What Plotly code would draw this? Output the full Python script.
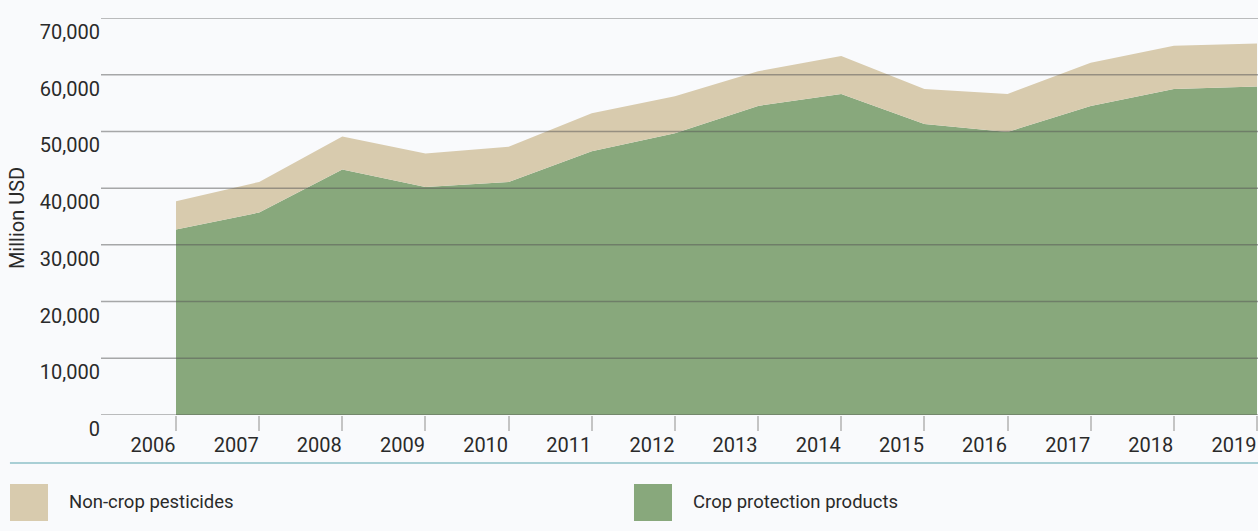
import plotly.graph_objects as go

years = [2006, 2007, 2008, 2009, 2010, 2011, 2012, 2013, 2014, 2015, 2016, 2017, 2018, 2019]
crop_protection = [32700, 35700, 43300, 40200, 41100, 46500, 49700, 54500, 56600, 51300, 49900, 54500, 57500, 57900]
total = [37700, 41100, 49100, 46100, 47300, 53200, 56200, 60600, 63300, 57500, 56600, 62100, 65100, 65500]
non_crop = [t - c for t, c in zip(total, crop_protection)]
y_ticks = [0, 10000, 20000, 30000, 40000, 50000, 60000, 70000]

TAN = "#d8cbae"
GREEN = "#88a87c"
BG = "#f9fafc"
TXT = "#2a2a2a"
FONT = "Roboto"

fig = go.Figure()
fig.add_trace(go.Scatter(x=years, y=crop_protection, name="Crop protection products",
                         stackgroup="one", mode="lines", line=dict(width=0),
                         fillcolor=GREEN, showlegend=False))
fig.add_trace(go.Scatter(x=years, y=non_crop, name="Non-crop pesticides",
                         stackgroup="one", mode="lines", line=dict(width=0),
                         fillcolor=TAN, showlegend=False))

# gridlines drawn above the areas
for v in y_ticks:
    fig.add_shape(type="line", xref="paper", yref="y", x0=0, x1=1, y0=v, y1=v,
                  line=dict(color="rgba(84,84,84,0.5)", width=1.5), layer="above")

# separator line
fig.add_shape(type="line", xref="paper", yref="paper", x0=-0.0787, x1=1, y0=-0.1209, y1=-0.1209,
              line=dict(color="#a9cfd5", width=2))

# custom legend
legend_items = [("Non-crop pesticides", TAN, -0.07865, -0.04581, -0.02939),
                ("Crop protection products", GREEN, 0.46067, 0.49352, 0.50994)]
for label, col, x0, x1, xt in legend_items:
    fig.add_shape(type="rect", xref="paper", yref="paper", x0=x0, x1=x1, y0=-0.2670, y1=-0.1738,
                  fillcolor=col, line=dict(width=0))
    fig.add_annotation(xref="paper", yref="paper", x=xt, y=-0.2204, text=label, showarrow=False,
                       xanchor="left", yanchor="middle", font=dict(family=FONT, size=18.5, color=TXT))

fig.add_annotation(xref="paper", yref="paper", x=-0.0726, y=0.496, text="Million USD",
                   textangle=-90, showarrow=False, xanchor="center", yanchor="middle",
                   font=dict(family=FONT, size=20, color=TXT))

fig.update_layout(
    width=1258, height=531,
    margin=dict(l=101, r=0, t=18, b=116),
    paper_bgcolor=BG, plot_bgcolor=BG,
    font=dict(family=FONT, size=20, color=TXT),
    xaxis=dict(range=[2005.098, 2019.012], tickvals=years, ticktext=[str(y) for y in years],
               ticks="outside", ticklen=15, tickcolor="#c4c4c4", tickwidth=1.5,
               showgrid=False, zeroline=False, showline=False, automargin=False,
               ticklabelshift=-23, ticklabelstandoff=-3,
               tickfont=dict(family=FONT, size=20, color=TXT)),
    yaxis=dict(range=[0, 70000], tickvals=y_ticks, tickformat=",", showgrid=False,
               zeroline=False, showline=False, ticks="", automargin=False,
               ticklabelshift=14, tickfont=dict(family=FONT, size=20, color=TXT)),
)

fig.write_html("out.html", config={"displayModeBar": False},
               post_script="document.body.style.margin='0';document.body.style.background='%s';" % BG)
